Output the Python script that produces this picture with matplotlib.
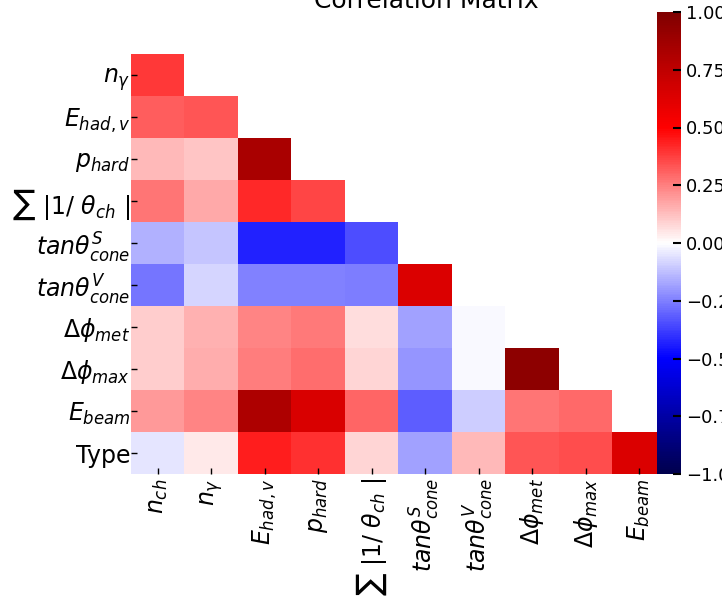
import matplotlib

matplotlib.use("Agg")
import matplotlib.pyplot as plt
import numpy as np

# lower triangle of the correlation matrix (row i holds columns 0..i)
ROW_LABELS = [
    r"$n_{\gamma}$",
    r"$E_{had,v}$",
    r"$p_{hard}$",
    r"$\sum\ |1/\ \theta_{ch}\ |$",
    r"$tan\theta^{S}_{cone}$",
    r"$tan\theta^{V}_{cone}$",
    r"$\Delta\phi_{met}$",
    r"$\Delta\phi_{max}$",
    r"$E_{beam}$",
    "Type",
]
COL_LABELS = [
    r"$n_{ch}$",
    r"$n_{\gamma}$",
    r"$E_{had,v}$",
    r"$p_{hard}$",
    r"$\sum\ |1/\ \theta_{ch}\ |$",
    r"$tan\theta^{S}_{cone}$",
    r"$tan\theta^{V}_{cone}$",
    r"$\Delta\phi_{met}$",
    r"$\Delta\phi_{max}$",
    r"$E_{beam}$",
]

r_ngamma = [0.39]
r_ehad = [0.32, 0.33]
r_phard = [0.14, 0.11, 0.83]
r_sum = [0.27, 0.17, 0.42, 0.36]
r_tans = [-0.15, -0.11, -0.43, -0.43, -0.35]
r_tanv = [-0.27, -0.08, -0.25, -0.25, -0.255, 0.64]
r_dphimet = [0.10, 0.15, 0.24, 0.265, 0.07, -0.186, -0.014]
r_dphimax = [0.10, 0.16, 0.255, 0.284, 0.085, -0.21, -0.014, 0.94]
r_ebeam = [0.20, 0.24, 0.82, 0.645, 0.30, -0.32, -0.10, 0.27, 0.29]
r_type = [-0.05, 0.04, 0.445, 0.40, 0.08, -0.186, 0.133, 0.33, 0.35, 0.633]

ROWS = [r_ngamma, r_ehad, r_phard, r_sum, r_tans, r_tanv,
        r_dphimet, r_dphimax, r_ebeam, r_type]

CBAR_TICKS = [-1.0, -0.75, -0.5, -0.25, 0.0, 0.25, 0.5, 0.75, 1.0]

W, H = 722, 601

plt.rcParams.update({
    "xtick.direction": "in",
    "ytick.direction": "in",
    "xtick.major.size": 4.5,
    "ytick.major.size": 4.5,
    "xtick.major.width": 1.0,
    "ytick.major.width": 1.0,
})

n = len(ROWS)
mat = np.full((n, len(COL_LABELS)), np.nan)
for i, row in enumerate(ROWS):
    mat[i, :len(row)] = row

fig = plt.figure(figsize=(W / 100, H / 100), dpi=100)
ax = fig.add_axes([131 / W, (H - 474) / H, 535 / W, 420 / H])
im = ax.imshow(mat, cmap="seismic", vmin=-1, vmax=1, aspect="auto",
               interpolation="nearest")
for s in ax.spines.values():
    s.set_visible(False)
ax.set_xticks(range(len(COL_LABELS)))
ax.set_xticklabels(COL_LABELS, rotation=90, fontsize=17)
ax.set_yticks(range(n))
ax.set_yticklabels(ROW_LABELS, fontsize=17)
ax.tick_params(axis="x", pad=3)
ax.tick_params(axis="y", pad=0.5)

cax = fig.add_axes([657 / W, (H - 474) / H, 24 / W, 462 / H])
cb = fig.colorbar(im, cax=cax, ticks=CBAR_TICKS)
cb.outline.set_visible(False)
cax.tick_params(labelsize=13, direction="in", length=6, width=1.5)
cax.set_yticklabels([f"{t:.2f}".replace("-", "\u2212") for t in CBAR_TICKS])

fig.text(426 / W, 1 - 8 / H, "Correlation Matrix", ha="center",
         va="baseline", fontsize=18)

fig.savefig("out.png", dpi=100)
